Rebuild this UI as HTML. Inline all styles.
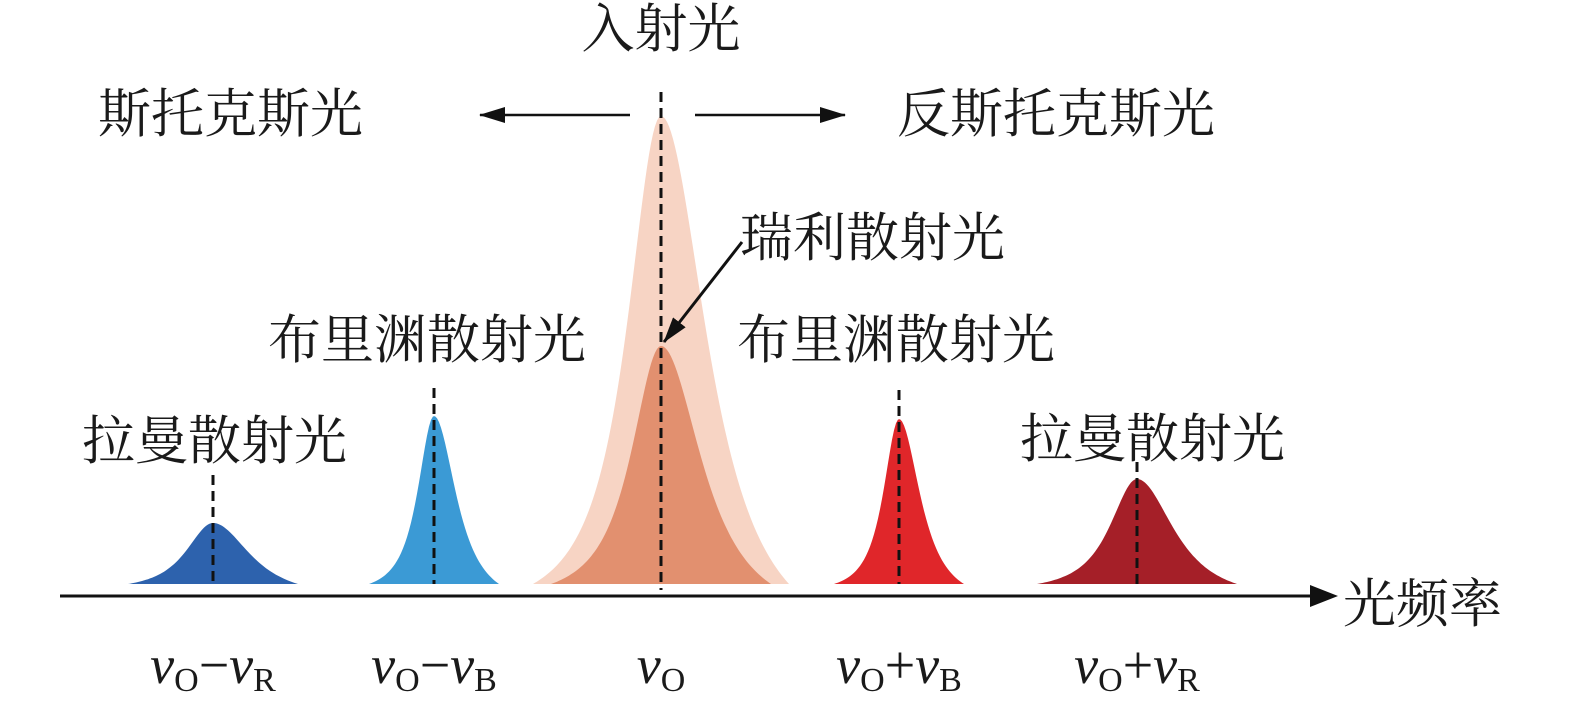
<!DOCTYPE html>
<html><head><meta charset="utf-8">
<style>
html,body{margin:0;padding:0;background:#fff;}
svg{display:block;}
.cjk{font-family:"Liberation Serif","Noto Serif CJK SC",serif;font-size:53px;fill:#1a1a1a;}
.lab{font-family:"Liberation Serif",serif;font-style:italic;font-size:54px;fill:#1a1a1a;}
.sub{font-style:normal;font-size:34px;}
</style></head>
<body>
<svg id="chart" width="1575" height="708" viewBox="0 0 1575 708">
<defs>
<marker id="ah2" markerWidth="26" markerHeight="16" refX="25" refY="8" orient="auto" markerUnits="userSpaceOnUse" viewBox="0 0 26 16">
<path d="M0,0 L26,8 L0,16 z" fill="#111"/>
</marker>
</defs>
<g id="peaks"></g>
<g id="dashes"></g>

<line x1="60" y1="596" x2="1312" y2="596" stroke="#111" stroke-width="3"/>
<path d="M1310,585 L1338,596 L1310,607 z" fill="#111"/>
<text class="cjk" x="1343" y="622">光频率</text>

<text class="cjk" x="661" y="47" text-anchor="middle">入射光</text>
<text class="cjk" x="98" y="132">斯托克斯光</text>
<text class="cjk" x="897" y="132">反斯托克斯光</text>
<line x1="630" y1="115" x2="480" y2="115" stroke="#111" stroke-width="2.5" marker-end="url(#ah2)"/>
<line x1="695" y1="115" x2="845" y2="115" stroke="#111" stroke-width="2.5" marker-end="url(#ah2)"/>
<text class="cjk" x="740" y="256">瑞利散射光</text>
<line x1="742" y1="242" x2="664" y2="342" stroke="#111" stroke-width="3" marker-end="url(#ah2)"/>
<text class="cjk" x="268" y="358">布里渊散射光</text>
<text class="cjk" x="737" y="358">布里渊散射光</text>
<text class="cjk" x="82" y="459">拉曼散射光</text>
<text class="cjk" x="1020" y="457">拉曼散射光</text>

<g id="ticks"></g>
</svg>
<script>
// data
const categories = ["raman-stokes","brillouin-stokes","rayleigh-incident","rayleigh","brillouin-anti-stokes","raman-anti-stokes"];
const freqs = [-448, -227, 0, 0, 238, 476];
const intensities = [61, 168, 468, 238, 165, 105];
const widths = [40, 24, 50, 44, 23, 40];
const halfSpans = [85, 65, 128, 110, 65, 100];
const colors = ["#2d62ad","#3b9ad5","#f7d4c4","#e2906f","#e0262a","#a51f28"];
const dashTops = [475, 388, 92, 92, 390, 462];
const tickFreqs = [-448, -227, 0, 238, 476];
const tickMain = ["v","v","v","v","v"];
const tickOps = ["−","−","","+","+"];
const tickSubs = ["R","B","","B","R"];

const NS="http://www.w3.org/2000/svg";
const x0=661, base=584;
function xScale(v){return x0+v;}
function yScale(h){return base-h;}
function shape(u){return 1/Math.pow(1+u*u,1.3);}

const pg=document.getElementById('peaks');
for(let i=0;i<categories.length;i++){
  const c=xScale(freqs[i]), w=widths[i], H=intensities[i], s=halfSpans[i];
  const fl=shape(s/(w*0.95)), fr=shape(s/(w*1.3));
  let d="M"+(c-s)+","+base;
  for(let dx=-s;dx<=s;dx+=2){
    const skew = dx>0?1.3:0.95;
    const fe = dx>0?fr:fl;
    const u=dx/(w*skew);
    const v=H*Math.max(0,(shape(u)-fe)/(1-fe));
    d+=" L"+(c+dx).toFixed(1)+","+yScale(v).toFixed(1);
  }
  d+=" L"+(c+s)+","+base+" Z";
  const p=document.createElementNS(NS,'path');
  p.setAttribute('d',d);
  p.setAttribute('fill',colors[i]);
  
  
  pg.appendChild(p);
}
const dg=document.getElementById('dashes');
for(let i=0;i<categories.length;i++){
  if(i===3) continue;
  const l=document.createElementNS(NS,'line');
  const c=xScale(freqs[i]);
  l.setAttribute('x1',c);l.setAttribute('x2',c);
  l.setAttribute('y1',dashTops[i]);l.setAttribute('y2',i===2?590:base);
  l.setAttribute('stroke','#111');l.setAttribute('stroke-width','3');
  l.setAttribute('stroke-dasharray','10,6');
  
  
  dg.appendChild(l);
}
const tg=document.getElementById('ticks');
for(let i=0;i<tickFreqs.length;i++){
  const t=document.createElementNS(NS,'text');
  t.setAttribute('class','lab');
  t.setAttribute('x',xScale(tickFreqs[i]));
  t.setAttribute('y',683);
  t.setAttribute('text-anchor','middle');
  
  
  let html='<tspan>'+tickMain[i]+'</tspan><tspan class="sub" dy="8">O</tspan>';
  if(tickOps[i]){
    html+='<tspan dy="-8" style="font-style:normal">'+tickOps[i]+'</tspan><tspan>v</tspan><tspan class="sub" dy="8">'+tickSubs[i]+'</tspan>';
  }
  t.innerHTML=html;
  tg.appendChild(t);
}
</script>
</body></html>
